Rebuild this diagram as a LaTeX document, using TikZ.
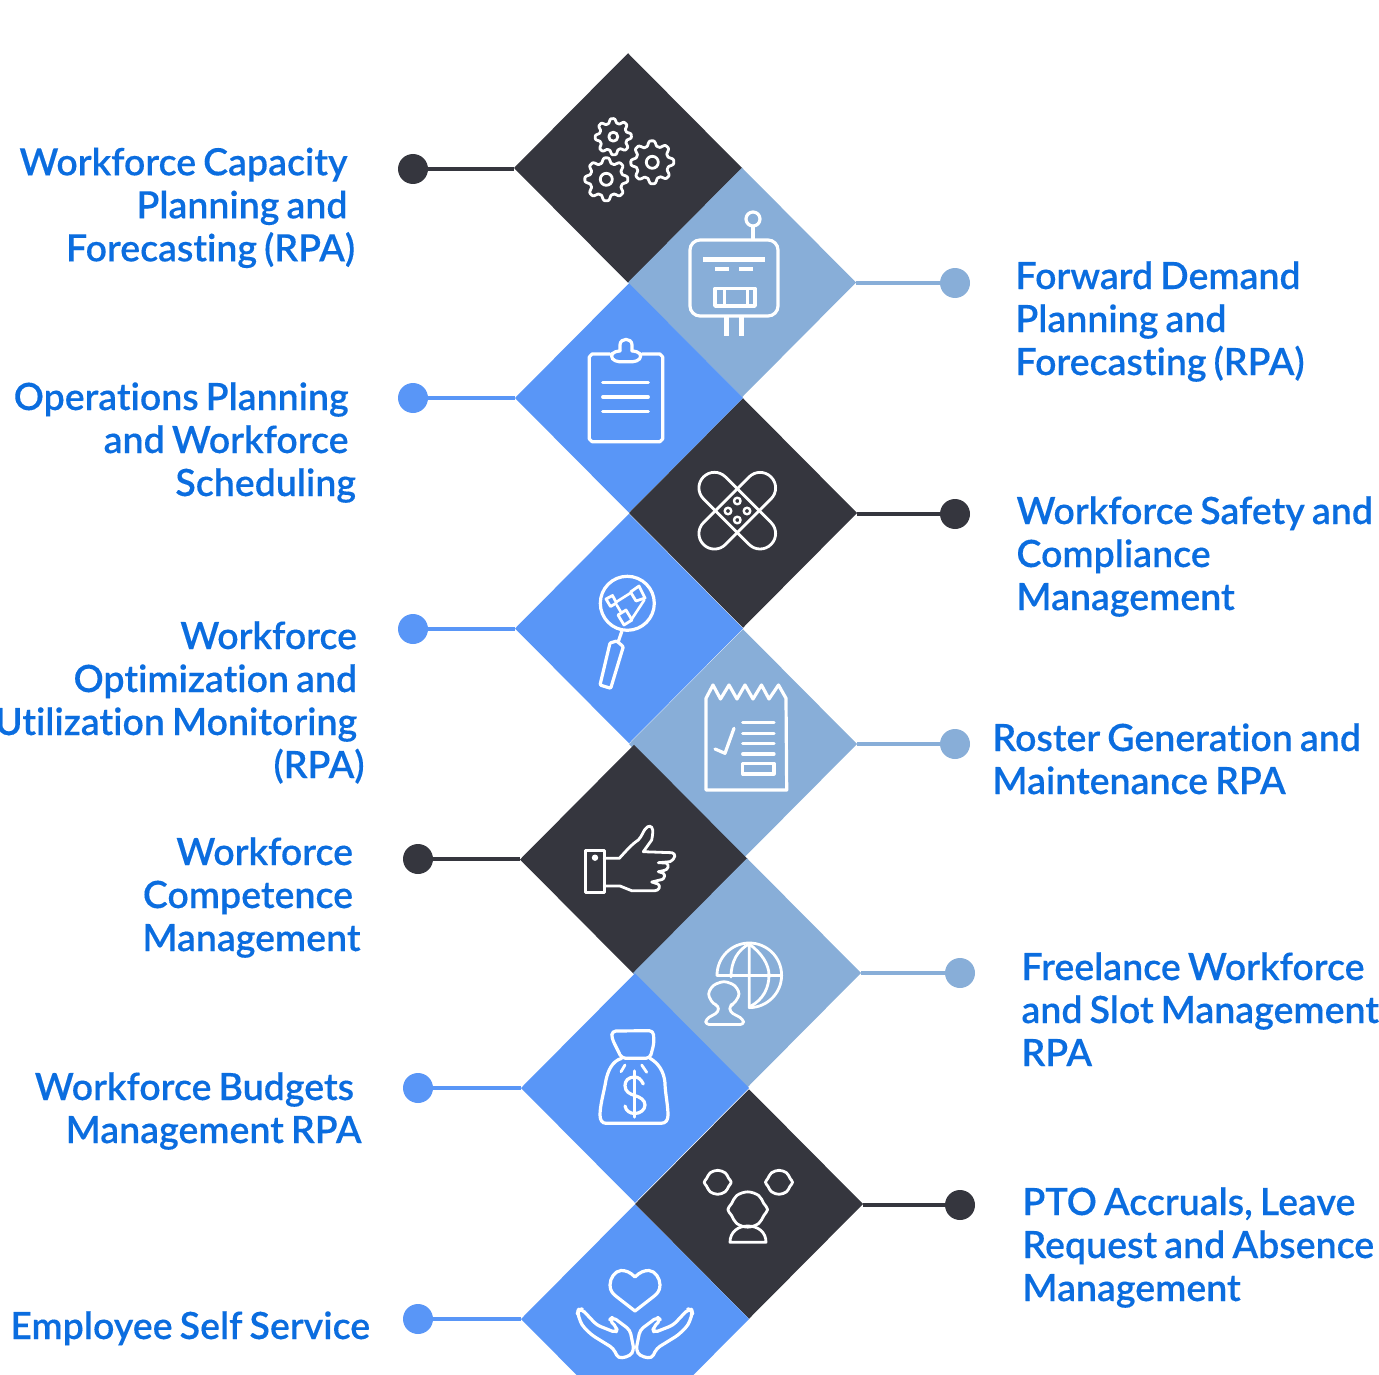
\documentclass[tikz,border=0pt]{standalone}
\usepackage{fontspec}
\usetikzlibrary{shapes.geometric}
\setmainfont{Lato Semibold}[WordSpace=0.76,FakeBold=0.25,Ligatures=NoCommon]
\definecolor{darkc}{HTML}{35363E}
\definecolor{bluec}{HTML}{5996F7}
\definecolor{lightc}{HTML}{88AED8}
\definecolor{textc}{HTML}{0B6DDF}
\tikzset{
  tile/.style={diamond,minimum width=228pt,minimum height=229.5pt,inner sep=0pt,outer sep=0pt,fill=#1},
  dot/.style={circle,minimum size=30pt,inner sep=0pt,outer sep=0pt,fill=#1},
  link/.style={line width=4pt,draw=#1},
  icon/.style={draw=white,line width=3.2pt,line join=round,line cap=round},
  lab/.style={inner sep=0pt,outer sep=0pt,text=textc,font=\fontsize{37.5pt}{43pt}\selectfont}
}
\newcommand{\rlab}[4]{\node[lab,anchor=north east,align=right] (#1) at (#2,#3-30.1) {\strut #4};}
\newcommand{\llab}[4]{\node[lab,anchor=north west,align=left] (#1) at (#2,#3-30.1) {\strut #4};}
\newcommand{\tsp}{\kern7.5pt\hbox{}}
\newcommand{\gearicon}[5]{%
  \draw[icon,line width=2.8pt] plot[domain=0:360,samples=121] ({#1+(#3+#3*0.15*(cos(8*\x+#5)-0.15*cos(24*\x+3*#5)))*cos(\x)},{#2+(#3+#3*0.15*(cos(8*\x+#5)-0.15*cos(24*\x+3*#5)))*sin(\x)}) -- cycle;
  \draw[icon,line width=2.8pt] (#1,#2) circle[radius=#4 pt];}
\newcommand{\headicon}[3]{%
  \draw[icon,line width=2.8pt] plot[smooth cycle,tension=0.6] coordinates {
    ({#1-13.5*#3},#2) ({#1-11*#3},{#2-4*#3}) ({#1-7.5*#3},{#2-9.5*#3}) (#1,{#2-12*#3}) ({#1+7.5*#3},{#2-9.5*#3}) ({#1+11*#3},{#2-4*#3})
    ({#1+13.5*#3},#2) ({#1+11*#3},{#2+4*#3}) ({#1+7.5*#3},{#2+9.5*#3}) (#1,{#2+12*#3}) ({#1-7.5*#3},{#2+9.5*#3}) ({#1-11*#3},{#2+4*#3})};}
\begin{document}
\begin{tikzpicture}[x=1pt,y=-1pt]
\useasboundingbox (0,0) rectangle (1379,1375);
% tiles
\node[tile=darkc]  (d1)  at (628,168) {};
\node[tile=lightc] (d2)  at (742,282.5) {};
\node[tile=bluec]  (d3)  at (629,398) {};
\node[tile=darkc]  (d4)  at (743,513) {};
\node[tile=bluec]  (d5)  at (629,628.5) {};
\node[tile=lightc] (d6)  at (743,744) {};
\node[tile=darkc]  (d7)  at (634,859.5) {};
\node[tile=lightc] (d8)  at (747,973) {};
\node[tile=bluec]  (d9)  at (635,1088) {};
\node[tile=darkc]  (d10) at (749,1204) {};
\node[tile=bluec]  (d11) at (635,1319) {};
% dots
\node[dot=darkc]  (p1)  at (413,169) {};
\node[dot=lightc] (p2)  at (955,283) {};
\node[dot=bluec]  (p3)  at (413,398) {};
\node[dot=darkc]  (p4)  at (955,514) {};
\node[dot=bluec]  (p5)  at (413,629) {};
\node[dot=lightc] (p6)  at (955,744) {};
\node[dot=darkc]  (p7)  at (418,859) {};
\node[dot=lightc] (p8)  at (960,973) {};
\node[dot=bluec]  (p9)  at (418,1088) {};
\node[dot=darkc]  (p10) at (960,1205) {};
\node[dot=bluec]  (p11) at (418,1319) {};
% links
\draw[link=darkc]  (p1) -- (p1 -| d1.west);
\draw[link=lightc] (p2) -- (p2 -| d2.east);
\draw[link=bluec]  (p3) -- (p3 -| d3.west);
\draw[link=darkc]  (p4) -- (p4 -| d4.east);
\draw[link=bluec]  (p5) -- (p5 -| d5.west);
\draw[link=lightc] (p6) -- (p6 -| d6.east);
\draw[link=darkc]  (p7) -- (p7 -| d7.west);
\draw[link=lightc] (p8) -- (p8 -| d8.east);
\draw[link=bluec]  (p9) -- (p9 -| d9.west);
\draw[link=darkc]  (p10) -- (p10 -| d10.east);
\draw[link=bluec]  (p11) -- (p11 -| d11.west);
% labels
\rlab{t1}{355}{175.3}{Workforce Capacity\tsp\\Planning and\tsp\\Forecasting (RPA)}
\rlab{t3}{356}{410}{Operations Planning\tsp\\and Workforce\tsp\\Scheduling}
\rlab{t5}{364.5}{649}{Workforce\tsp\\Optimization and\tsp\\Utilization Monitoring\tsp\\(RPA)}
\rlab{t7}{360.5}{865}{Workforce\tsp\\Competence\tsp\\Management}
\rlab{t9}{361.5}{1100}{Workforce Budgets\tsp\\Management RPA}
\rlab{t11}{370}{1339}{Employee Self Service}
\llab{t2}{1015.5}{289}{Forward Demand\\Planning and\\Forecasting (RPA)}
\llab{t4}{1016.5}{524}{Workforce Safety and\\Compliance\\Management}
\llab{t6}{992.5}{751}{Roster Generation and\\Maintenance RPA}
\llab{t8}{1021.5}{980}{Freelance Workforce\\and Slot Management\\RPA}
\llab{t10}{1022.5}{1215}{PTO Accruals, Leave\\Request and Absence\\Management}
% gears
\gearicon{613.3}{136.7}{16}{4.5}{20}
\gearicon{652.3}{162.3}{19}{6}{10}
\gearicon{606.3}{179.3}{19}{6}{0}
% robot
\draw[icon] (690,240) [rounded corners=10pt] rectangle (778,316);
\draw[icon] (753,219) circle[radius=7pt];
\draw[icon,line cap=butt] (753,226) -- (753,240);
\draw[icon,line cap=butt,line width=5pt] (703,260) -- (765,260);
\draw[icon,line cap=butt,line width=4pt] (715,269) -- (729,269) (739,269) -- (753,269);
\draw[icon,line width=3.5pt] (715,288.5) rectangle (755,306);
\draw[icon,line cap=butt,line width=3.5pt] (724.3,288.5) -- (724.3,306) (747.3,288.5) -- (747.3,306);
\draw[icon,line cap=butt,line width=4.5pt] (726.7,316) -- (726.7,336) (741.7,316) -- (741.7,336);
% clipboard
\draw[icon] (610,354) -- (592,354) -- (589.3,357) -- (589.3,439) -- (592,441.7) -- (660,441.7) -- (662.7,439) -- (662.7,357) -- (660,354) -- (642,354);
\draw[icon,rounded corners=4pt] (620,351) -- (615,351) -- (610,356) -- (615,361.7) -- (637,361.7) -- (642.3,356) -- (637,351) -- (632,351);
\draw[icon] (620,351) -- (620,345) .. controls (620,337.5) and (632,337.5) .. (632,345) -- (632,351);
\draw[icon] (602.7,382.7) -- (648.3,382.7) (602.7,397) -- (648.3,397) (602.7,411.3) -- (648.3,411.3);
% bandage
\draw[icon,line width=2.8pt,rotate around={45:(737.3,510.7)}] (689.5,495.2) [rounded corners=15.4pt] rectangle (785,526.2);
\draw[icon,line width=2.8pt,rotate around={-45:(737.3,510.7)}] (689.5,495.2) [rounded corners=15.4pt] rectangle (785,526.2);
\foreach \a/\b in {737.3/501,728/511,747/511,737.3/520}
  \draw[icon,line width=2.4pt] (\a,\b) circle[radius=3.3pt];
% magnifier
\draw[icon] (627.3,603.3) circle[radius=27pt];
\draw[icon] (621.7,631.7) -- (618.5,641);
\draw[icon,rounded corners=1pt] (610,643) -- (616.7,641) -- (623.3,646.7) -- (610.7,688.3) -- (600,685) -- cycle;
\draw[icon,line width=2.8pt] (606,599) -- (612.5,595.5) -- (616.5,603) -- (610.5,606.5) -- cycle;
\draw[icon,line width=2.8pt] (630.5,592) -- (639,586) -- (645,598) -- (636,601) -- cycle;
\draw[icon,line width=2.8pt] (618,615) -- (626,610) -- (632,620) -- (624,625) -- cycle;
\draw[icon,line width=2.6pt] (616.7,601.7) -- (630,593.3) (616.7,605) -- (620.7,611.7) (644.3,600) -- (630.7,620.7);
% receipt
\draw[icon] (706,790) -- (706,698.3) -- (713,685) -- (720.5,699) -- (729,685) -- (737,699) -- (745,685) -- (753,699) -- (761.5,685) -- (769,699) -- (778.5,685) -- (786,698.3) -- (786.7,790) -- cycle;
\draw[icon] (715,749) -- (725,753.3) -- (734,728.3);
\draw[icon] (742.7,722.7) -- (774,722.7) (742.7,733.3) -- (774,733.3) (742.7,743.7) -- (774,743.7) (742.7,754) -- (774,754);
\draw[icon] (742.7,763.3) rectangle (774,774);
% thumb
\draw[icon,line width=2.8pt] (585.3,850.3) rectangle (604.3,892.7);
\fill[white] (595,857.7) circle[radius=3.2pt];
\draw[icon,line width=2.8pt] (604.3,858.3) -- (619.3,858.3) .. controls (626,851) and (632,844) .. (638.3,840) .. controls (642,836) and (643,832) .. (645,829.3) .. controls (648,825) and (652,825) .. (652.7,830) .. controls (653,834) and (652,838) .. (651.7,840) -- (643.3,851.7) -- (672,852.7) .. controls (676,854) and (676,858) .. (670,861.7) -- (658.3,862.7)
 (658.3,862.7) -- (666,863) .. controls (670,865) and (668,870) .. (664,870.5) -- (658.3,871.7)
 (658.3,871.7) -- (663,873) .. controls (666,875) and (664,879) .. (662,879.5) -- (651.7,882)
 (651.7,882) -- (658,884) .. controls (661,886) and (659,890.7) .. (655,890.7) -- (631.7,890.7) -- (620,886) -- (604.3,886);
% globe with person
\draw[icon,line width=2.8pt] (717,975.3) arc[start angle=180,end angle=-90,radius=32.3pt] -- (749.3,943) ;
\draw[icon,line width=2.8pt] (717,975.3) -- (781.6,975.3);
\draw[icon,line width=2.8pt] (731,977) .. controls (731,961) and (738,950) .. (749,944);
\draw[icon,line width=2.8pt] (749,944) .. controls (762,953) and (769,965) .. (769,975) .. controls (769,988) and (763,1000) .. (750,1006.5);
\draw[icon,line width=2.8pt,rounded corners=3.5pt] (707.7,994) -- (713,985) -- (724,981) -- (735,985) -- (740,994) -- (734,1004) -- (729.5,1005.5) -- (730,1012) -- (743,1019) -- (744,1024.5) -- (705.5,1024.5) -- (706,1019) -- (718.5,1012) -- (718.5,1005.5) -- (713,1004) -- cycle;
% money bag
\draw[icon,rounded corners=4pt] (621.7,1058.3) -- (611.7,1038) -- (612,1031) -- (653.3,1030.7) -- (654,1043.3) -- (650,1058.3) -- cycle;
\draw[icon] (621.7,1058.3) .. controls (612,1061) and (608,1071) .. (606,1080) .. controls (604,1092) and (600,1105) .. (600,1115) .. controls (600,1120) and (602,1123.3) .. (606,1123.3) -- (661,1123.3) .. controls (666,1123.3) and (668,1120) .. (668,1115) .. controls (668,1105) and (665,1092) .. (665,1083) .. controls (664,1071) and (658,1063) .. (650,1058.3);
\draw[icon,line width=2.8pt] (625,1065) -- (621,1071.7) (641.7,1065) -- (646.7,1072.3);
\draw[icon] (643.3,1084) .. controls (641,1079) and (638,1077) .. (634.7,1077) .. controls (628,1077) and (625,1081) .. (625,1085.5) .. controls (625,1092) and (630,1094) .. (634.7,1095.5) .. controls (640,1097) and (645,1100) .. (645,1105) .. controls (645,1110) and (640,1113.5) .. (634.7,1113.5) .. controls (630,1113.5) and (626,1111) .. (625,1106);
\draw[icon] (634.7,1071) -- (634.7,1117);
% people
\headicon{717.7}{1182.3}{1}
\headicon{779}{1182.3}{1}
\headicon{747.7}{1209.5}{1.47}
\draw[icon,line width=2.8pt] (730,1242.3) .. controls (730,1232) and (738,1226) .. (747.7,1226) .. controls (758,1226) and (766,1232) .. (766,1242.3) -- cycle;
% heart and hands
\draw[icon] (635,1277) .. controls (630,1272) and (626,1270.5) .. (621,1270.5) .. controls (615,1271) and (610,1278) .. (610,1285) .. controls (610,1291) and (613,1294) .. (617,1297) -- (635,1311) -- (653,1297) .. controls (657,1294) and (660,1291) .. (660,1285) .. controls (660,1278) and (655,1271) .. (649,1270.5) .. controls (644,1270.5) and (640,1272) .. (635,1277) -- cycle;
\foreach \s in {1,-1}{
\begin{scope}[xshift=635pt,xscale=\s]
\draw[icon,rounded corners=4pt] (-56.7,1310) -- (-53.3,1309) -- (-38.3,1325) -- (-19,1332.7) -- (-17.7,1328) -- (-25.7,1320) -- (-22.3,1317) -- (-5,1330) -- (-1,1350) -- (-5,1356) -- (-16.7,1358.5) -- (-21.7,1348.3) -- (-43.3,1335) -- (-53.3,1325) -- (-57.5,1313) -- cycle;
\end{scope}}
\end{tikzpicture}
\end{document}
